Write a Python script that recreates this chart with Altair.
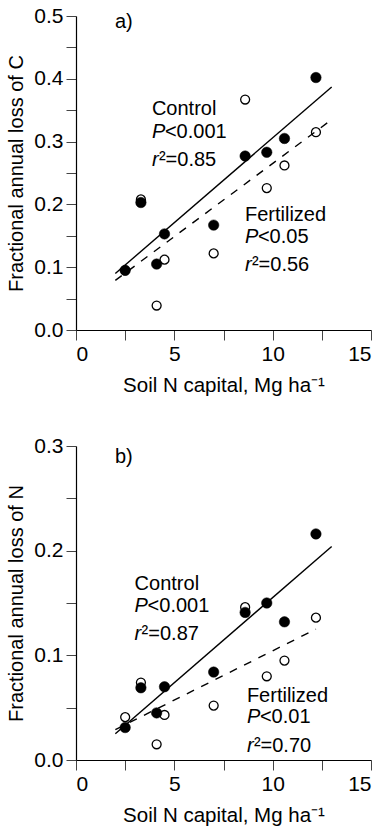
import altair as alt
import pandas as pd

FONT = "Liberation Sans"

# ---- data ----
site_n = [2.5, 3.3, 4.1, 4.5, 7.0, 8.6, 9.7, 10.6, 12.2]
c_control = [0.095, 0.203, 0.105, 0.153, 0.167, 0.277, 0.283, 0.305, 0.402]
c_fert = [0.095, 0.208, 0.039, 0.112, 0.122, 0.367, 0.226, 0.262, 0.315]
n_control = [0.031, 0.069, 0.045, 0.070, 0.084, 0.141, 0.150, 0.132, 0.216]
n_fert = [0.041, 0.074, 0.015, 0.043, 0.052, 0.146, 0.080, 0.095, 0.136]

# regression line end points
c_control_fit_x = [2.0, 13.0]
c_control_fit_y = [0.090, 0.387]
c_fert_fit_x = [2.0, 13.0]
c_fert_fit_y = [0.079, 0.335]
n_control_fit_x = [2.0, 13.0]
n_control_fit_y = [0.025, 0.204]
n_fert_fit_x = [2.0, 12.2]
n_fert_fit_y = [0.029, 0.125]

# annotation texts
c_panel_label = "a)"
n_panel_label = "b)"
c_stats = {"control": ("<0.001", "²=0.85"), "fert": ("<0.05", "²=0.56")}
n_stats = {"control": ("<0.001", "²=0.87"), "fert": ("<0.01", "²=0.70")}


def panel(ctrl, fert, cfx, cfy, ffx, ffy, ymax, ytitle, label, stats, anchors):
    pts_c = pd.DataFrame({"x": site_n, "y": ctrl})
    pts_f = pd.DataFrame({"x": site_n, "y": fert})
    line_c = pd.DataFrame({"x": cfx, "y": cfy})
    line_f = pd.DataFrame({"x": ffx, "y": ffy})

    xs = alt.Scale(domain=[0, 15], nice=False, zero=False)
    ys = alt.Scale(domain=[0, ymax], nice=False, zero=False)
    nt = int(round(ymax / 0.05))
    xaxis = alt.Axis(
        title="Soil N capital, Mg ha⁻¹",
        values=[0, 2.5, 5, 7.5, 10, 12.5, 15],
        labelExpr="datum.value % 5 == 0 ? datum.label : ''",
        format="d",
        grid=False,
    )
    yaxis = alt.Axis(
        title=ytitle,
        values=[round(i * 0.05, 2) for i in range(nt + 1)],
        labelExpr="round(datum.value*100) % 10 == 0 ? format(datum.value, '.1f') : ''",
        grid=False,
    )
    X = alt.X("x:Q", scale=xs, axis=xaxis)
    Y = alt.Y("y:Q", scale=ys, axis=yaxis)

    open_pts = alt.Chart(pts_f).mark_point(
        shape="circle", filled=True, fill="white", stroke="black",
        strokeWidth=1.3, size=80, opacity=1
    ).encode(x=X, y=Y)
    filled_pts = alt.Chart(pts_c).mark_point(
        shape="circle", filled=True, fill="black", stroke="black",
        strokeWidth=0.5, size=110, opacity=1
    ).encode(x=X, y=Y)
    l_c = alt.Chart(line_c).mark_line(color="black", strokeWidth=1.4).encode(x=X, y=Y)
    l_f = alt.Chart(line_f).mark_line(color="black", strokeWidth=1.4,
                                      strokeDash=[8, 8]).encode(x=X, y=Y)

    rows = []
    (lx, ly), (cx, cy), (fx, fy), dy1, dy2 = anchors
    rows.append(dict(kind="word", t=label, x=lx, y=ly))
    rows.append(dict(kind="word", t="Control", x=cx, y=cy))
    rows.append(dict(kind="ital", t="P", x=cx, y=cy - dy1))
    rows.append(dict(kind="pval", t=stats["control"][0], x=cx, y=cy - dy1))
    rows.append(dict(kind="ital", t="r", x=cx, y=cy - dy2))
    rows.append(dict(kind="rval", t=stats["control"][1], x=cx, y=cy - dy2))
    rows.append(dict(kind="word", t="Fertilized", x=fx, y=fy))
    rows.append(dict(kind="ital", t="P", x=fx, y=fy - dy1))
    rows.append(dict(kind="pval", t=stats["fert"][0], x=fx, y=fy - dy1))
    rows.append(dict(kind="ital", t="r", x=fx, y=fy - dy2))
    rows.append(dict(kind="rval", t=stats["fert"][1], x=fx, y=fy - dy2))
    ann = pd.DataFrame(rows)

    base_t = alt.Chart(ann)
    common = dict(font=FONT, fontSize=20, align="left", baseline="alphabetic", color="black")
    t_word = base_t.mark_text(**common).encode(x=X, y=Y, text="t:N").transform_filter(
        "datum.kind == 'word'")
    t_ital = base_t.mark_text(fontStyle="italic", **common).encode(
        x=X, y=Y, text="t:N").transform_filter("datum.kind == 'ital'")
    t_p = base_t.mark_text(dx=13, **common).encode(x=X, y=Y, text="t:N").transform_filter(
        "datum.kind == 'pval'")
    t_r = base_t.mark_text(dx=7, **common).encode(x=X, y=Y, text="t:N").transform_filter(
        "datum.kind == 'rval'")

    return alt.layer(open_pts, l_c, l_f, filled_pts, t_word, t_ital, t_p, t_r).properties(
        width=295, height=314)


top = panel(c_control, c_fert, c_control_fit_x, c_control_fit_y, c_fert_fit_x, c_fert_fit_y,
            0.5, "Fractional annual loss of C", c_panel_label, c_stats,
            [(1.98, 0.4805), (3.86, 0.3418), (8.59, 0.1743), 0.036, 0.080])
bottom = panel(n_control, n_fert, n_control_fit_x, n_control_fit_y, n_fert_fit_x, n_fert_fit_y,
               0.3, "Fractional annual loss of N", n_panel_label, n_stats,
               [(1.98, 0.2834), (2.98, 0.1622), (8.69, 0.0556), 0.0205, 0.0475])

chart = alt.vconcat(top, bottom, spacing=116, bounds="flush").configure_view(
    stroke=None
).configure_axis(
    labelFont=FONT, titleFont=FONT, labelFontSize=21,
    labelColor="black", titleColor="black", titleFontWeight="normal",
    domainColor="black", domainWidth=1.2, tickColor="#444", tickWidth=1,
    tickSize=10, labelPadding=3,
).configure_axisX(titlePadding=11, titleFontSize=20.5).configure_axisY(
    titlePadding=7, titleFontSize=20
).properties(
    padding={"left": 6, "top": 5, "right": 0, "bottom": 0}, background="white"
)

chart.save("out.html", embed_options={"renderer": "svg", "actions": False})
